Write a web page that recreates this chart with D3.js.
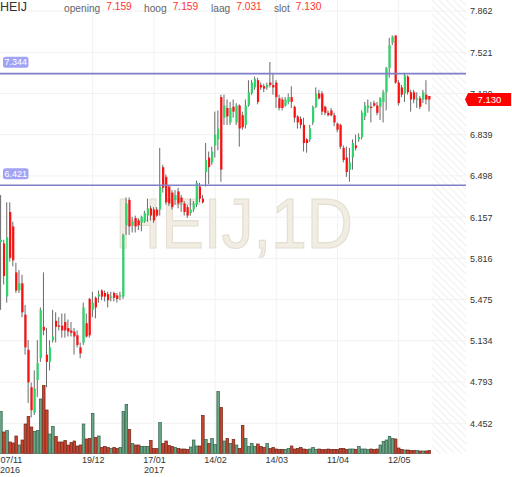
<!DOCTYPE html>
<html><head><meta charset="utf-8">
<script src="https://cdn.jsdelivr.net/npm/d3@7"></script>
<style>body{margin:0;background:#fff}svg{display:block}text{font-family:"Liberation Sans",Arial,sans-serif}</style>
</head><body><svg id="c" width="512" height="477"></svg>
<script>
// ---- data ----
const opens = [5.95,5.94,5.50,6.20,6.08,5.70,5.55,5.61,5.35,5.06,4.75,4.54,4.81,4.99,5.25,5.02,4.96,5.14,5.30,5.26,
5.26,5.29,5.24,5.22,5.21,5.18,5.08,5.12,5.28,5.48,5.39,5.49,5.50,5.55,5.53,5.52,5.49,5.53,5.51,5.50,
5.50,6.09,6.30,6.09,6.15,6.13,6.11,6.12,6.17,6.23,6.22,6.22,6.22,6.57,6.49,6.41,6.36,6.30,6.37,6.32,
6.27,6.24,6.19,6.22,6.26,6.41,6.31,6.53,6.65,6.61,6.75,6.80,7.15,6.98,7.06,6.94,7.07,6.94,7.08,7.00,
6.92,7.08,7.18,7.23,7.29,7.25,7.24,7.23,7.27,7.25,7.27,7.14,7.13,7.08,7.11,7.15,7.07,6.99,6.97,6.92,
6.80,6.80,6.94,7.07,7.18,7.18,7.07,7.02,7.04,7.00,6.93,6.92,6.73,6.65,6.55,6.65,6.75,6.80,6.82,6.99,
7.06,7.07,7.10,7.08,7.07,7.11,7.19,7.39,7.60,7.66,7.27,7.23,7.18,7.32,7.19,7.19,7.13,7.14,7.13,7.17,7.159];
const highs = [6.34,5.97,6.28,6.28,6.12,5.78,5.72,5.68,5.43,5.14,4.79,4.89,5.14,5.41,5.70,5.24,5.14,5.39,5.37,5.33,
5.36,5.36,5.31,5.29,5.24,5.22,5.12,5.45,5.36,5.49,5.54,5.50,5.55,5.56,5.55,5.54,5.54,5.54,5.53,5.54,
6.02,6.32,6.32,6.16,6.17,6.15,6.17,6.21,6.31,6.25,6.24,6.24,6.73,6.59,6.51,6.42,6.38,6.38,6.40,6.34,
6.29,6.26,6.31,6.29,6.46,6.44,6.34,6.77,6.70,6.74,7.03,7.04,7.17,7.17,7.13,7.11,7.13,7.10,7.09,7.03,
7.13,7.29,7.29,7.32,7.31,7.27,7.26,7.27,7.44,7.35,7.29,7.17,7.15,7.15,7.18,7.24,7.08,7.00,6.99,6.98,
6.81,6.92,7.08,7.23,7.21,7.20,7.08,7.04,7.06,7.02,6.94,6.93,6.75,6.74,6.73,6.80,6.84,6.85,7.04,7.11,
7.13,7.11,7.12,7.11,7.15,7.21,7.40,7.64,7.66,7.66,7.29,7.25,7.35,7.33,7.21,7.21,7.19,7.16,7.21,7.29,7.159];
const lows = [5.39,5.60,5.45,5.79,5.75,5.53,5.53,5.33,5.02,4.62,4.50,4.52,4.67,4.96,5.18,4.75,4.89,5.12,5.12,5.22,
5.16,5.16,5.17,5.17,5.02,5.08,4.99,5.10,5.16,5.16,5.33,5.32,5.45,5.47,5.46,5.41,5.46,5.46,5.45,5.47,
5.48,6.01,6.01,6.03,6.03,6.05,6.04,6.11,6.12,6.13,6.11,6.16,6.17,6.36,6.26,6.25,6.22,6.26,6.23,6.20,
6.17,6.15,6.17,6.20,6.24,6.28,6.27,6.41,6.43,6.59,6.65,6.71,6.45,6.92,6.92,6.92,6.98,6.92,6.74,6.88,
6.89,7.07,7.17,7.21,7.09,7.21,7.19,7.21,7.23,7.17,7.06,7.04,7.04,7.07,7.09,7.06,6.94,6.89,6.89,6.70,
6.69,6.78,6.92,7.06,7.13,7.00,7.00,6.99,6.99,6.91,6.86,6.72,6.61,6.49,6.45,6.55,6.71,6.78,6.80,6.96,
7.02,6.94,7.07,7.00,6.96,6.94,7.04,7.31,7.58,7.26,7.08,7.15,7.11,7.17,7.03,7.10,7.06,7.05,7.10,7.09,7.031];
const closes = [5.97,5.67,5.99,5.82,5.80,5.55,5.61,5.37,5.08,4.79,4.56,4.74,4.95,5.39,5.22,4.96,5.08,5.17,5.25,5.25,
5.22,5.22,5.21,5.20,5.17,5.10,5.03,5.41,5.17,5.18,5.45,5.41,5.52,5.50,5.50,5.47,5.50,5.49,5.48,5.51,
6.01,6.27,6.08,6.12,6.08,6.09,6.16,6.19,6.23,6.17,6.13,6.17,6.41,6.40,6.28,6.27,6.24,6.34,6.27,6.28,
6.20,6.17,6.22,6.27,6.44,6.31,6.28,6.63,6.57,6.70,6.84,6.89,6.55,7.08,6.99,7.06,7.03,7.08,6.89,6.90,
7.08,7.19,7.27,7.30,7.11,7.23,7.22,7.25,7.25,7.23,7.15,7.06,7.06,7.13,7.15,7.11,6.98,6.94,6.92,6.77,
6.77,6.89,7.07,7.18,7.14,7.03,7.02,7.00,7.00,6.94,6.88,6.74,6.63,6.53,6.61,6.77,6.73,6.82,7.02,7.08,
7.08,7.06,7.08,7.02,7.14,7.19,7.39,7.58,7.65,7.27,7.10,7.17,7.33,7.19,7.13,7.13,7.14,7.07,7.19,7.13,7.130];
const volumes = [420,215,230,115,105,175,85,135,295,370,265,220,230,545,680,435,195,270,170,115,
115,130,85,110,125,75,85,295,145,150,400,160,175,60,70,60,50,60,50,60,
420,490,240,100,85,85,70,70,70,130,50,50,310,100,125,80,70,60,50,45,
45,40,65,135,75,75,380,140,100,150,90,620,460,125,150,100,140,85,50,280,
150,70,100,70,95,70,60,100,50,60,45,40,40,40,50,75,45,50,60,45,
40,45,60,40,45,40,40,45,40,40,40,50,50,40,45,45,40,70,45,45,
40,45,40,45,85,120,135,170,150,145,55,40,35,35,30,30,30,25,25,25,30];
const priceTicks = [7.862,7.521,7.180,6.839,6.498,6.157,5.816,5.475,5.134,4.793,4.452];
const dateTickIdx = [0,30,50,70,90,110,130];
const dateLabels = ["07/11","19/12","17/01","14/02","14/03","11/04","12/05"];
const yearLabels = ["2016","","2017","","","",""];
const levels = [7.344, 6.421];
const header = [["opening","7.159"],["hoog","7.159"],["laag","7.031"],["slot","7.130"]];
const lastPrice = 7.130;

// ---- drawing ----
const svg = d3.select("#c");
const N = closes.length;
const x = d3.scaleLinear().domain([0, N-1]).range([0.9, 0.9 + 3.06*(N-1)]);
const y = d3.scaleLinear().domain([4.452, 7.862]).range([423.3, 11]);
const yv = d3.scaleLinear().domain([0, 700]).range([453.5, 383.5]);
const plotRight = 466, plotBottom = 453.5;

const defs = svg.append("defs");
const pat = defs.append("pattern").attr("id","hatch").attr("patternUnits","userSpaceOnUse")
  .attr("width",5).attr("height",5).attr("patternTransform","rotate(-45)");
pat.append("rect").attr("width",5).attr("height",5).attr("fill","#fff");
pat.append("line").attr("x1",0).attr("y1",0).attr("x2",0).attr("y2",5).attr("stroke","#ececec").attr("stroke-width",1.6);
svg.append("rect").attr("x",432).attr("y",0).attr("width",plotRight-432).attr("height",plotBottom).attr("fill","url(#hatch)");

// grid
svg.append("g").selectAll("line").data(priceTicks).join("line")
  .attr("x1",0).attr("x2",plotRight).attr("y1",d=>y(d)).attr("y2",d=>y(d))
  .attr("stroke","#f2f2f2").attr("stroke-width",1);
svg.append("g").selectAll("line").data(dateTickIdx.slice(1)).join("line")
  .attr("x1",d=>x(d)).attr("x2",d=>x(d)).attr("y1",0).attr("y2",plotBottom)
  .attr("stroke","#f2f2f2").attr("stroke-width",1);

// watermark
svg.append("text").attr("x",115).attr("y",248).attr("font-size",70)
  .attr("textLength",238).attr("lengthAdjust","spacingAndGlyphs")
  .attr("fill","#f1ede2").attr("stroke","#e4dfd2").attr("stroke-width",1.2)
  .text("HEIJ,1D");

const up = i => closes[i] >= opens[i];

// volume
svg.append("g").selectAll("rect").data(volumes).join("rect")
  .attr("x",(d,i)=>x(i)-1.3).attr("width",2.6)
  .attr("y",d=>yv(d)).attr("height",d=>plotBottom-yv(d))
  .attr("fill",(d,i)=>up(i)?"#6aa586":"#c9452f")
  .attr("stroke",(d,i)=>up(i)?"#2f6147":"#6e2417").attr("stroke-width",0.7);

// candles
const cg = svg.append("g");
cg.selectAll("line").data(closes).join("line")
  .attr("x1",(d,i)=>x(i)-0.3).attr("x2",(d,i)=>x(i)-0.3)
  .attr("y1",(d,i)=>y(highs[i])).attr("y2",(d,i)=>y(lows[i]))
  .attr("stroke","#6a6a6a").attr("stroke-width",1);
cg.selectAll("rect").data(closes).join("rect")
  .attr("x",(d,i)=>x(i)-1).attr("width",2.2)
  .attr("y",(d,i)=>y(Math.max(opens[i],closes[i])))
  .attr("height",(d,i)=>Math.max(1.2, Math.abs(y(opens[i])-y(closes[i]))))
  .attr("fill",(d,i)=>up(i)?"#2fd56b":"#ff1010");

// level lines
svg.append("g").selectAll("line").data(levels).join("line")
  .attr("x1",0).attr("x2",plotRight).attr("y1",d=>y(d)).attr("y2",d=>y(d))
  .attr("stroke","#7f7fc9").attr("stroke-width",1.6);
const lg = svg.append("g").selectAll("g").data(levels).join("g")
  .attr("transform",d=>`translate(3,${y(d)-17})`);
lg.append("rect").attr("width",25.5).attr("height",11).attr("rx",2.5).attr("fill","#a3a3f5");
lg.append("text").attr("x",12.8).attr("y",8.6).attr("text-anchor","middle").attr("font-size",9)
  .attr("fill","#fff").text(d=>d.toFixed(3));

// right axis
const ya = d3.axisRight(y).tickValues(priceTicks).tickSize(0).tickPadding(4).tickFormat(d3.format(".3f"));
const yag = svg.append("g").attr("transform",`translate(${plotRight},0)`).call(ya);
yag.select(".domain").remove();
yag.selectAll("text").attr("font-size",9).attr("fill","#333").attr("font-family","Liberation Sans, Arial");

// price tag
const ty = y(lastPrice);
svg.append("path").attr("d",`M465,${ty} L468,${ty-6.5} L511,${ty-6.5} L511,${ty+6.5} L468,${ty+6.5} Z`).attr("fill","#ff0000");
svg.append("text").attr("x",489.5).attr("y",ty+3.3).attr("text-anchor","middle").attr("font-size",9.5)
  .attr("fill","#fff").text(lastPrice.toFixed(3));

// bottom axis
const xa = d3.axisBottom(x).tickValues(dateTickIdx).tickSize(0).tickPadding(3).tickFormat((d,i)=>dateLabels[i]);
const xag = svg.append("g").attr("transform",`translate(0,${plotBottom})`).call(xa);
xag.select(".domain").remove();
xag.selectAll("text").attr("font-size",9).attr("fill","#333").attr("font-family","Liberation Sans, Arial")
  .attr("text-anchor",(d,i)=>i===0?"start":"middle").attr("x",(d,i)=>i===0?-0.9:0);
svg.append("g").selectAll("text").data(dateTickIdx.filter((d,i)=>yearLabels[i])).join("text")
  .attr("x",d=>d===0?0:x(d)).attr("y",472.5).attr("font-size",9).attr("fill","#333")
  .attr("text-anchor",d=>d===0?"start":"middle")
  .text(d=>yearLabels[dateTickIdx.indexOf(d)]);

// header
svg.append("text").attr("x",0).attr("y",11).attr("font-size",12.5).attr("fill","#333").text("HEIJ");
const hx = [64,144,211,274];
header.forEach((h,i)=>{
  const t = svg.append("text").attr("x",hx[i]).attr("y",11.5).attr("font-size",10.2);
  t.append("tspan").attr("fill","#666").text(h[0]);
  t.append("tspan").attr("fill","#ff3030").attr("dx",6).attr("dy",-1.5).text(h[1]);
});
</script></body></html>
